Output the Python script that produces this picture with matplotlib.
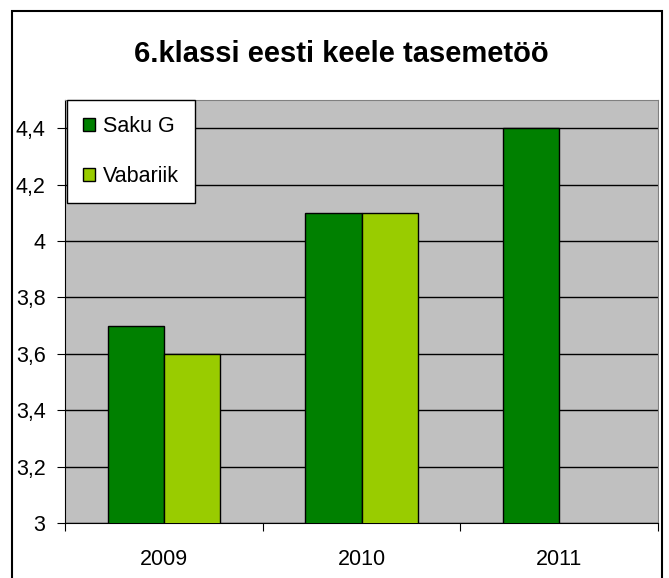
import numpy as np
import matplotlib
matplotlib.use("Agg")
from matplotlib import pyplot as plt
from matplotlib.patches import Rectangle

plt.rcParams['font.family'] = ['Liberation Sans', 'DejaVu Sans']

years = ["2009", "2010", "2011"]
saku = [3.7, 4.1, 4.4]
vabariik = [3.6, 4.1, np.nan]
y_ticks = [3, 3.2, 3.4, 3.6, 3.8, 4, 4.2, 4.4]
y_labels = ["3", "3,2", "3,4", "3,6", "3,8", "4", "4,2", "4,4"]

fig = plt.figure(figsize=(6.69, 5.78), dpi=100)

# outer chart border (bottom edge is cut off in the original)
fig.patches.append(Rectangle((12 / 669, -0.05), 650 / 669, 1.05 - 11 / 578,
                             transform=fig.transFigure, fill=False,
                             edgecolor="black", lw=1.5, zorder=0))

ax = fig.add_axes([65 / 669, 55 / 578, 593 / 669, 423 / 578])
ax.set_facecolor("#C0C0C0")

x = np.arange(len(years))
w = 0.284
ax.bar(x - w / 2, saku, w, color="#008000", edgecolor="black",
       lw=1, label="Saku G", zorder=3)
ax.bar(x + w / 2, vabariik, w, color="#99CC00", edgecolor="black",
       lw=1, label="Vabariik", zorder=3)

ax.set_ylim(3, 4.5)
ax.set_xlim(-0.5, 2.5)
ax.set_yticks(y_ticks)
ax.set_yticklabels(y_labels, fontsize=15.5)
ax.yaxis.grid(True, color="black", lw=1)
ax.set_axisbelow(True)

# category boundaries get the tick marks, labels sit between them
ax.set_xticks([-0.5, 0.5, 1.5, 2.5])
ax.set_xticklabels([])
ax.set_xticks(x, minor=True)
ax.set_xticklabels(years, minor=True, fontsize=15.5)
ax.tick_params(axis="x", which="major", direction="out", length=6, color="black")
ax.tick_params(axis="x", which="minor", length=0, pad=19)
ax.tick_params(axis="y", direction="out", length=6, pad=8)

for s in ["top", "right"]:
    ax.spines[s].set_color("#808080")
for s in ["left", "bottom"]:
    ax.spines[s].set_color("black")

leg = ax.legend(loc="upper left", bbox_to_anchor=(2 / 593, 1.0),
                frameon=True, fancybox=False, edgecolor="black",
                facecolor="white", framealpha=1,
                handlelength=0.55, handleheight=0.55, labelspacing=1.33,
                borderpad=0.75, handletextpad=0.37, fontsize=15.5,
                borderaxespad=0)
leg.get_frame().set_linewidth(1)

fig.text(341 / 669, 1 - 54 / 578, "6.klassi eesti keele tasemetöö",
         ha="center", va="center", fontsize=21, fontweight="bold")

fig.savefig("out.png", dpi=100)
